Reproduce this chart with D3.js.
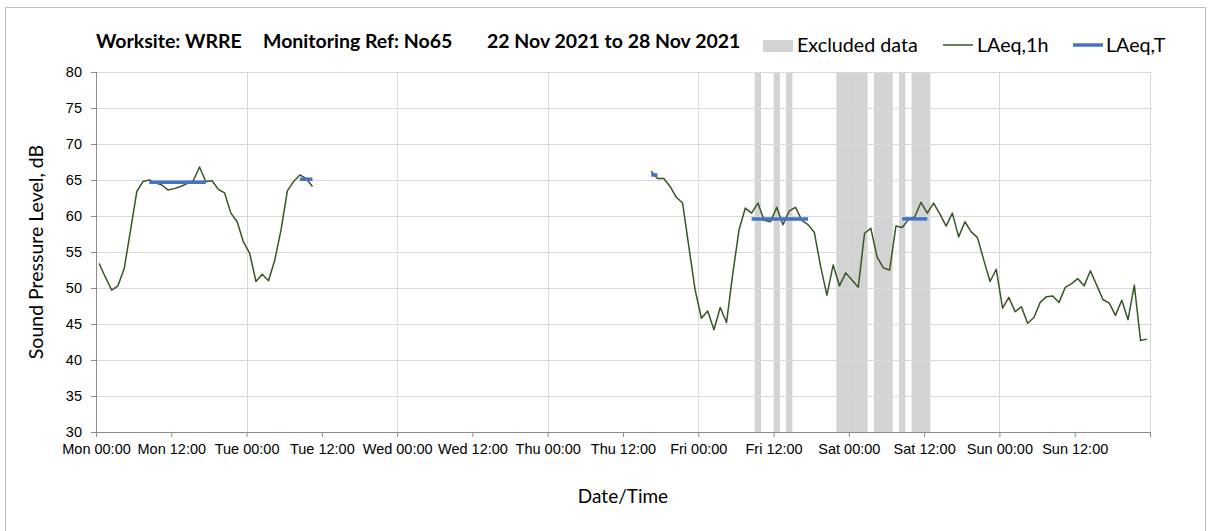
<!DOCTYPE html>
<html>
<head>
<meta charset="utf-8">
<script src="https://cdn.jsdelivr.net/npm/d3@7"></script>
<style>
  body { margin: 0; background: #fff; }
  svg { display: block; font-family: Lato, "Open Sans", sans-serif; }
  .axis path, .axis line { stroke: #8c8c8c; }
  .axis text { fill: #000; }
</style>
</head>
<body>
<div id="chart"></div>
<script>
const weekStart = new Date(2021, 10, 22, 0, 0);
const weekEnd = new Date(2021, 10, 29, 0, 0);

// LAeq,1h hourly levels, first block from Mon 00:00 (hour 0)
const monStartHour = 0;
const laeq1hMon = [53.4, 51.5, 49.7, 50.3, 52.7, 58.0, 63.4, 64.8, 65.0, 64.6,
  64.3, 63.6, 63.8, 64.1, 64.5, 64.9, 66.8, 64.8, 64.9, 63.7,
  63.2, 60.4, 59.2, 56.4, 54.8, 50.9, 51.9, 51.0, 53.9, 58.1,
  63.5, 64.8, 65.7, 65.2, 64.1];

// second block from Thu 16:00 (hour 88) to Sun 23:00
const thuStartHour = 88;
const laeq1hThu = [66.2, 65.2, 65.2, 64.1, 62.6, 61.8, 55.7, 49.7, 45.8, 46.8,
  44.2, 47.3, 45.2, 52.0, 58.1, 61.1, 60.4, 61.8, 59.4, 59.2,
  61.2, 58.8, 60.7, 61.2, 59.4, 58.8, 57.7, 53.0, 49.0, 53.2,
  50.3, 52.1, 51.1, 50.1, 57.6, 58.3, 54.3, 52.8, 52.5, 58.6,
  58.4, 59.5, 59.9, 61.9, 60.4, 61.8, 60.3, 58.6, 60.4, 57.1,
  59.2, 57.8, 57.0, 53.9, 50.9, 52.6, 47.2, 48.7, 46.7, 47.4,
  45.1, 45.9, 48.0, 48.8, 48.9, 48.0, 50.1, 50.6, 51.3, 50.3,
  52.4, 50.4, 48.4, 47.9, 46.2, 48.3, 45.6, 50.4, 42.7, 42.9];

// LAeq,T periods (first and last hour, level)
const laeqTFirst = [8, 32, 88, 104, 128];
const laeqTLast = [17, 34, 89, 113, 132];
const laeqTLevel = [64.7, 65.1, 65.7, 59.6, 59.6];

// hours flagged as excluded
const excludedHours = [105, 108, 110, 118, 119, 120, 121, 122, 124, 125, 126, 128, 130, 131, 132];

const yTicks = [30, 35, 40, 45, 50, 55, 60, 65, 70, 75, 80];
const dayNames = ["Sun", "Mon", "Tue", "Wed", "Thu", "Fri", "Sat"];

const width = 1208, height = 531;
const margin = { top: 72, left: 96, right: 58, bottom: 99 };

const hourDate = h => d3.timeMinute.offset(weekStart, Math.round(h * 60));

const svg = d3.select("#chart").append("svg")
    .attr("width", width)
    .attr("height", height);

// outer frame
svg.append("rect")
    .attr("x", 5.5).attr("y", 7.5)
    .attr("width", 1200).attr("height", 540)
    .attr("fill", "#fff")
    .attr("stroke", "#bfbfbf");

const x = d3.scaleTime()
    .domain([weekStart, weekEnd])
    .range([margin.left, width - margin.right]);

const y = d3.scaleLinear()
    .domain([30, 80])
    .range([height - margin.bottom, margin.top]);

// excluded bands, merged into runs
let runs = [];
excludedHours.forEach(h => {
  let last = runs[runs.length - 1];
  if (last && last[1] === h) last[1] = h + 1;
  else runs.push([h, h + 1]);
});

svg.append("g").selectAll("rect")
  .data(runs)
  .join("rect")
    .attr("x", d => x(hourDate(d[0])))
    .attr("width", d => x(hourDate(d[1])) - x(hourDate(d[0])))
    .attr("y", y(80))
    .attr("height", y(30) - y(80))
    .attr("fill", "#d3d3d3");

// grid
const grid = svg.append("g").attr("stroke", "#d9d9d9").attr("stroke-width", 1);
grid.selectAll(".hgrid")
  .data(yTicks.filter(v => v > 30))
  .join("line")
    .attr("x1", x(weekStart)).attr("x2", x(weekEnd))
    .attr("y1", d => Math.round(y(d)) + 0.5).attr("y2", d => Math.round(y(d)) + 0.5);

grid.selectAll(".vgrid")
  .data(d3.timeDay.range(d3.timeDay.offset(weekStart, 1), d3.timeDay.offset(weekEnd, 1)))
  .join("line")
    .attr("x1", d => Math.round(x(d)) + 0.5).attr("x2", d => Math.round(x(d)) + 0.5)
    .attr("y1", y(80)).attr("y2", y(30));

// axes
const xAxis = d3.axisBottom(x)
    .tickValues(d3.timeHour.every(12).range(weekStart, d3.timeHour.offset(weekEnd, 1)))
    .tickSize(5)
    .tickPadding(7)
    .tickFormat(d => +d === +weekEnd ? "" : dayNames[d.getDay()] + " " + d3.timeFormat("%H:%M")(d));

svg.append("g")
    .attr("class", "axis")
    .attr("transform", "translate(0," + y(30) + ")")
    .call(xAxis)
    .call(g => g.selectAll("text").attr("font-size", 14.5).attr("font-family", null))
    .call(g => g.select(".domain").attr("d", "M" + x(weekStart) + ",0.5H" + x(weekEnd)));

const yAxis = d3.axisLeft(y)
    .tickValues(yTicks)
    .tickSize(5)
    .tickPadding(9);

svg.append("g")
    .attr("class", "axis")
    .attr("transform", "translate(" + margin.left + ",0)")
    .call(yAxis)
    .call(g => g.selectAll("text").attr("font-size", 14.5).attr("font-family", null))
    .call(g => g.select(".domain").attr("d", "M0.5," + y(30) + "V" + y(80)));

// LAeq,1h line
const line = d3.line()
    .defined(d => d.v != null)
    .x(d => x(hourDate(d.h + 0.5)))
    .y(d => y(d.v));

const blocks = [
  laeq1hMon.map((v, i) => ({ h: monStartHour + i, v })),
  laeq1hThu.map((v, i) => ({ h: thuStartHour + i, v }))
];

svg.append("g").selectAll("path")
  .data(blocks)
  .join("path")
    .attr("d", line)
    .attr("fill", "none")
    .attr("stroke", "#375623")
    .attr("stroke-width", 1.5)
    .attr("stroke-linejoin", "round");

// LAeq,T lines
svg.append("g").selectAll("line")
  .data(laeqTLevel.map((v, i) => ({ a: laeqTFirst[i], b: laeqTLast[i], v })))
  .join("line")
    .attr("x1", d => x(hourDate(d.a + 0.5)))
    .attr("x2", d => x(hourDate(d.b + 0.5)))
    .attr("y1", d => y(d.v)).attr("y2", d => y(d.v))
    .attr("stroke", "#4472c4")
    .attr("stroke-width", 3.5);

// title
const title = svg.append("g").attr("font-weight", "bold").attr("font-size", 19.5);
title.append("text").attr("x", 96).attr("y", 48).text("Worksite: WRRE");
title.append("text").attr("x", 263).attr("y", 48).text("Monitoring Ref: No65");
title.append("text").attr("x", 487).attr("y", 48).text("22 Nov 2021 to 28 Nov 2021");

// legend
const legend = svg.append("g").attr("font-size", 19.7);
legend.append("rect").attr("x", 763).attr("y", 40).attr("width", 30).attr("height", 12).attr("fill", "#d3d3d3");
legend.append("text").attr("x", 797).attr("y", 52).text("Excluded data");
legend.append("line").attr("x1", 943).attr("x2", 973).attr("y1", 45).attr("y2", 45)
    .attr("stroke", "#375623").attr("stroke-width", 1.5);
legend.append("text").attr("x", 977).attr("y", 52).text("LAeq,1h");
legend.append("line").attr("x1", 1073).attr("x2", 1103).attr("y1", 45).attr("y2", 45)
    .attr("stroke", "#4472c4").attr("stroke-width", 3.5);
legend.append("text").attr("x", 1106).attr("y", 52).text("LAeq,T");

// axis titles
svg.append("text")
    .attr("transform", "translate(43," + (y(55)) + ") rotate(-90)")
    .attr("text-anchor", "middle")
    .attr("font-size", 19.5)
    .text("Sound Pressure Level, dB");

svg.append("text")
    .attr("x", (x(weekStart) + x(weekEnd)) / 2)
    .attr("y", 503)
    .attr("text-anchor", "middle")
    .attr("font-size", 19)
    .text("Date/Time");
</script>
</body>
</html>
